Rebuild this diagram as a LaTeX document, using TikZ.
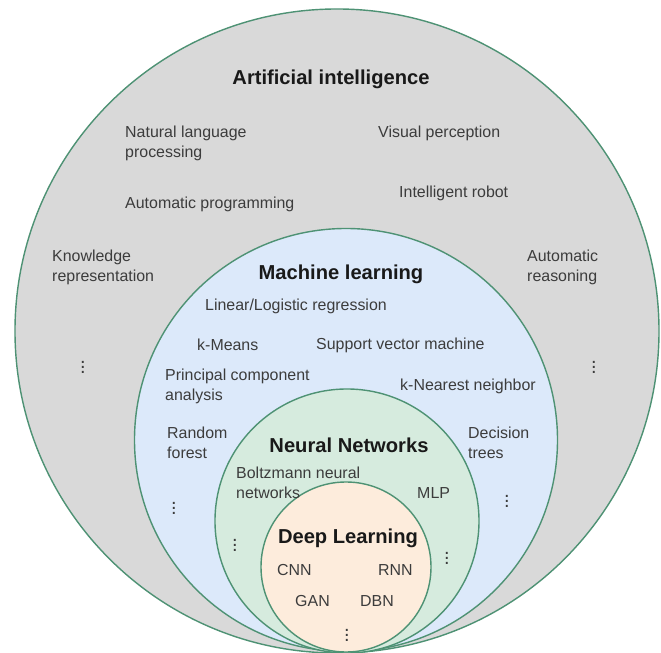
\documentclass[tikz,border=0pt]{standalone}
\usepackage{fontspec}
\setmainfont{Liberation Sans}
\usepackage{tikz}
\usepackage{xcolor}
\definecolor{aigray}{RGB}{217,217,217}
\definecolor{mlblue}{RGB}{220,233,250}
\definecolor{nngreen}{RGB}{214,235,222}
\definecolor{dlpeach}{RGB}{253,236,220}
\definecolor{ringgreen}{RGB}{78,146,116}
\definecolor{textgray}{RGB}{60,60,60}
\definecolor{titleblack}{RGB}{25,25,25}
\tikzstyle{field} = [circle, draw=ringgreen, line width=1.2pt, inner sep=0pt]
\tikzstyle{fieldtitle} = [inner sep=0pt, font=\fontsize{17.2}{20}\selectfont\bfseries, text=titleblack]
\tikzstyle{topic} = [anchor=west, align=left, inner sep=0pt, font=\fontsize{13.6}{17}\selectfont, text=textgray]
\tikzstyle{more} = [inner sep=0pt, font=\fontsize{17}{17}\selectfont, text=textgray]

\begin{document}
\begin{tikzpicture}[x=0.03cm, y=-0.03cm]
    \clip (0,0) rectangle (661,653);

    % Nested fields
    \node[field, fill=aigray, minimum size=19.32cm] (ai) at (337,331) {};
    \node[field, fill=mlblue, minimum size=12.69cm] (ml) at (346,440) {};
    \node[field, fill=nngreen, minimum size=7.92cm] (nn) at (347,521) {};
    \node[field, fill=dlpeach, minimum size=5.1cm] (dl) at (346,567) {};

    % Artificial intelligence
    \node[fieldtitle] (aititle) at (331,79) {Artificial intelligence};
    \node[topic] (nlp) at (125,143) {Natural language\\processing};
    \node[topic] (vision) at (378,133) {Visual perception};
    \node[topic] (autoprog) at (125,204) {Automatic programming};
    \node[topic] (robot) at (399,193) {Intelligent robot};
    \node[topic] (knowrep) at (52,267) {Knowledge\\representation};
    \node[topic] (autoreason) at (527,267) {Automatic\\reasoning};
    \node[more] (aimoreL) at (83,364) {$\vdots$};
    \node[more] (aimoreR) at (594,364) {$\vdots$};

    % Machine learning
    \node[fieldtitle] (mltitle) at (341,274) {Machine learning};
    \node[topic] (linreg) at (205,306) {Linear/Logistic regression};
    \node[topic] (kmeans) at (197,345) {k-Means};
    \node[topic] (svm) at (316,345) {Support vector machine};
    \node[topic] (pca) at (165,386) {Principal component\\analysis};
    \node[topic] (knn) at (400,386) {k-Nearest neighbor};
    \node[topic] (rforest) at (167,443) {Random\\forest};
    \node[topic] (dtrees) at (468,443) {Decision\\trees};
    \node[more] (mlmoreL) at (174,505) {$\vdots$};
    \node[more] (mlmoreR) at (507,498) {$\vdots$};

    % Neural networks
    \node[fieldtitle] (nntitle) at (349,445) {Neural Networks};
    \node[topic] (boltz) at (236,483) {Boltzmann neural\\networks};
    \node[topic] (mlp) at (417,493) {MLP};
    \node[more] (nnmoreL) at (235,542) {$\vdots$};
    \node[more] (nnmoreR) at (447,555) {$\vdots$};

    % Deep learning
    \node[fieldtitle] (dltitle) at (348,538) {Deep Learning};
    \node[topic] (cnn) at (277,570) {CNN};
    \node[topic] (rnn) at (378,570) {RNN};
    \node[topic] (gan) at (295,601) {GAN};
    \node[topic] (dbn) at (360,601) {DBN};
    \node[more] (dlmore) at (347,632) {$\vdots$};
\end{tikzpicture}
\end{document}
